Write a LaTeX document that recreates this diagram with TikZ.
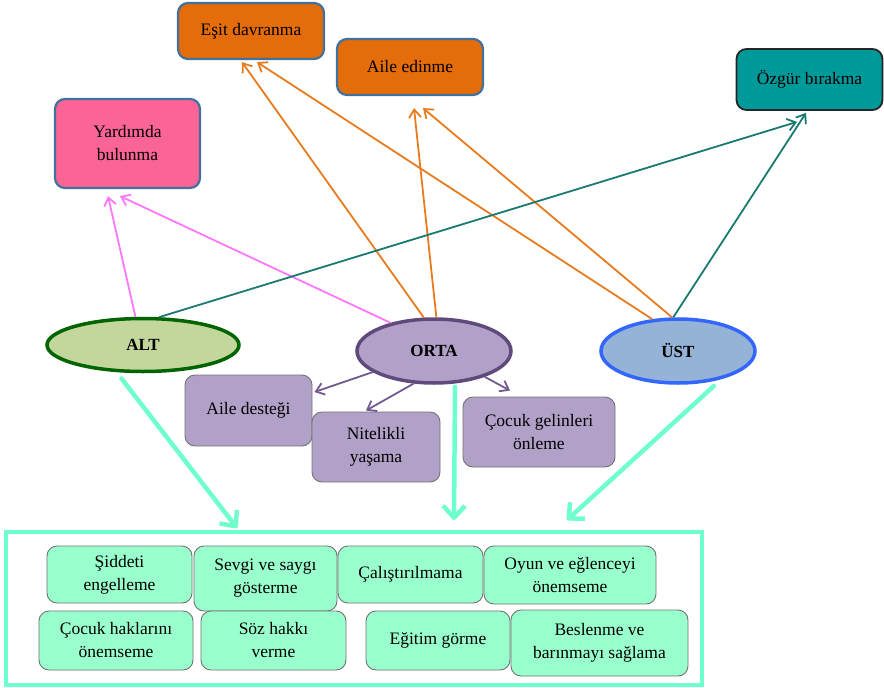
\documentclass[tikz,border=0pt]{standalone}
\usepackage{fontspec}
\setmainfont{Liberation Serif}
\usetikzlibrary{arrows.meta,shapes.geometric}
\definecolor{orangefill}{RGB}{228,108,10}
\definecolor{boxedge}{RGB}{65,113,156}
\definecolor{pinkfill}{RGB}{250,100,150}
\definecolor{tealfill}{RGB}{0,153,153}
\definecolor{altfill}{RGB}{195,214,155}
\definecolor{altedge}{RGB}{0,100,0}
\definecolor{ortafill}{RGB}{177,160,199}
\definecolor{ortaedge}{RGB}{96,74,123}
\definecolor{ustfill}{RGB}{149,179,215}
\definecolor{ustedge}{RGB}{51,102,255}
\definecolor{greenfill}{RGB}{153,255,204}
\definecolor{aqua}{RGB}{110,255,205}
\definecolor{pinkline}{RGB}{255,119,255}
\definecolor{orangeline}{RGB}{232,123,30}
\definecolor{tealline}{RGB}{26,122,112}
\definecolor{purpleline}{RGB}{112,90,143}
\tikzset{
  txt/.style={font=\fontsize{17.5}{23}\selectfont, align=center, inner sep=0pt},
  topbox/.style={txt, draw=boxedge, line width=2.2pt, rounded corners=10pt},
  subbox/.style={txt, draw=black!55, line width=0.9pt, fill=ortafill, rounded corners=10pt},
  gbox/.style={txt, draw=black!55, line width=0.9pt, fill=greenfill, rounded corners=10pt},
  lvl/.style={ellipse, inner sep=0pt, line width=3.5pt, font=\bfseries\fontsize{17}{20}\selectfont},
  thin/.style={line width=1.8pt, -{Straight Barb[length=8pt,width=12pt]}},
  thick/.style={line width=4.5pt, color=aqua, line cap=round, -{Straight Barb[length=12pt,width=22pt,line join=round]}}
}
\begin{document}
\begin{tikzpicture}[x=1pt,y=-1pt]
\useasboundingbox (0,0) rectangle (884,688);
% top boxes
\node[topbox, fill=orangefill, minimum width=146pt, minimum height=56pt] (esit) at (251,31) {Eşit davranma};
\node[topbox, fill=orangefill, minimum width=146pt, minimum height=56pt] (aile) at (410,67) {Aile edinme};
\node[topbox, fill=pinkfill, minimum width=145pt, minimum height=89pt] (yard) at (127.5,143.5) {Yardımda\\bulunma};
\node[txt, draw=black!85, line width=1.8pt, rounded corners=10pt, fill=tealfill, minimum width=146pt, minimum height=61pt] (ozgur) at (809.5,79.5) {Özgür bırakma};
% levels
\node[lvl, draw=altedge, fill=altfill, minimum width=192pt, minimum height=53pt] (alt) at (143,345) {ALT};
\node[lvl, draw=ortaedge, fill=ortafill, minimum width=154pt, minimum height=64pt] (orta) at (434,351) {ORTA};
\node[lvl, draw=ustedge, fill=ustfill, minimum width=154pt, minimum height=64pt] (ust) at (678,351) {ÜST};
% orta sub boxes
\node[subbox, minimum width=127pt, minimum height=71pt] (ailed) at (248.5,410.5) {Aile desteği};
\node[subbox, minimum width=128pt, minimum height=70pt] (nit) at (376,447) {Nitelikli\\yaşama};
\node[subbox, minimum width=152pt, minimum height=70pt] (cg) at (539,432) {Çocuk gelinleri\\önleme};
% bottom frame
\node[draw=aqua, line width=4pt, fill=white, minimum width=696pt, minimum height=153pt, inner sep=0pt] (frame) at (354,608.5) {};
\node[gbox, minimum width=145pt, minimum height=57pt] (siddet) at (119.5,574.5) {Şiddeti\\engelleme};
\node[gbox, minimum width=143pt, minimum height=65pt] (sevgi) at (265.5,578.5) {Sevgi ve saygı\\gösterme};
\node[gbox, minimum width=145pt, minimum height=57pt] (calis) at (410.5,574.5) {Çalıştırılmama};
\node[gbox, minimum width=172pt, minimum height=58pt] (oyun) at (570,575) {Oyun ve eğlenceyi\\önemseme};
\node[gbox, minimum width=154pt, minimum height=59pt] (cocukh) at (116,640.5) {Çocuk haklarını\\önemseme};
\node[gbox, minimum width=145pt, minimum height=59pt] (soz) at (273.5,640.5) {Söz hakkı\\verme};
\node[gbox, minimum width=144pt, minimum height=59pt] (egitim) at (438,640.5) {Eğitim görme};
\node[gbox, minimum width=177pt, minimum height=66pt] (besl) at (599.5,643) {Beslenme ve\\barınmayı sağlama};
% pink arrows
\draw[thin, pinkline] (alt.105) -- ([xshift=-19.5pt,yshift=-7pt]yard.south);
\draw[thin, pinkline] (orta.147) -- ([xshift=-7.5pt,yshift=-7pt]yard.south);
% orange arrows
\draw[thin, orangeline] (orta.107) -- ([xshift=-9pt,yshift=-2pt]esit.south);
\draw[thin, orangeline] (orta.86) -- ([xshift=4pt,yshift=-12pt]aile.south);
\draw[thin, orangeline] (ust.129) -- ([xshift=6pt,yshift=-2pt]esit.south);
\draw[thin, orangeline] (ust.100) -- ([xshift=13pt,yshift=-12pt]aile.south);
% teal arrows
\draw[thin, tealline] (alt.60) -- ([xshift=-12.5pt,yshift=-11pt]ozgur.south);
\draw[thin, tealline] (ust.98) -- ([xshift=-3.5pt,yshift=-2pt]ozgur.south);
% purple arrows
\draw[thin, purpleline] (orta.199) -- ([xshift=2pt,yshift=18.5pt]ailed.east);
\draw[thin, purpleline] (orta.238) -- ([xshift=-10pt,yshift=1pt]nit.north);
\draw[thin, purpleline] (orta.333) -- ([xshift=-29pt,yshift=6pt]cg.north);
% aqua arrows
\draw[thick] ([yshift=-6pt]alt.232) -- ([xshift=-117pt,yshift=2pt]frame.north);
\draw[thick] ([xshift=21pt,yshift=-2pt]orta.south) -- ([xshift=100pt,yshift=10pt]frame.north);
\draw[thick] ([yshift=-5pt]ust.320) -- ([xshift=213pt,yshift=10pt]frame.north);
\end{tikzpicture}
\end{document}
